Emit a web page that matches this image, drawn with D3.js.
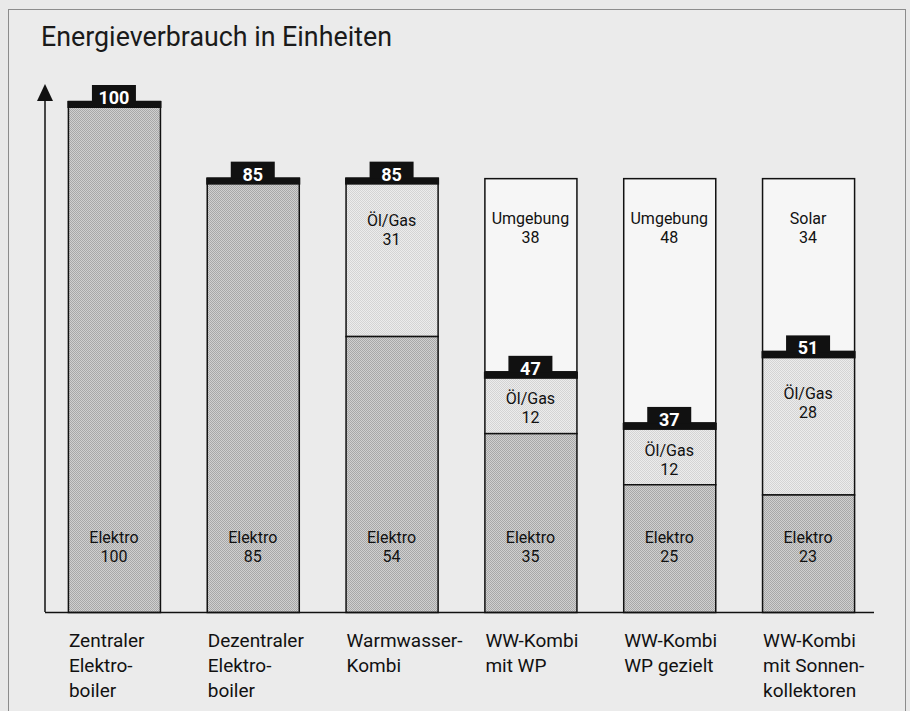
<!DOCTYPE html>
<html><head><meta charset="utf-8">
<script src="https://cdn.jsdelivr.net/npm/d3@7"></script>
<style>
html,body{margin:0;padding:0;background:#e9e9e9;}
svg{display:block;}
text{font-family:Roboto,"Open Sans",sans-serif;}
</style></head>
<body>
<svg id="chart" width="910" height="711"></svg>
<script>
const categories = [
  ["Zentraler","Elektro-","boiler"],
  ["Dezentraler","Elektro-","boiler"],
  ["Warmwasser-","Kombi"],
  ["WW-Kombi","mit WP"],
  ["WW-Kombi","WP gezielt"],
  ["WW-Kombi","mit Sonnen-","kollektoren"]
];
const elektro = [100, 85, 54, 35, 25, 23];
const oelGas  = [0, 0, 31, 12, 12, 28];
const umwelt  = [0, 0, 0, 38, 48, 34];
const umweltNames = ["", "", "", "Umgebung", "Umgebung", "Solar"];
const title = "Energieverbrauch in Einheiten";

const svg = d3.select("#chart");
const defs = svg.append("defs");
function checker(id, a, b){
  const p = defs.append("pattern").attr("id", id).attr("width", 2).attr("height", 2)
    .attr("patternUnits", "userSpaceOnUse");
  p.append("rect").attr("width", 2).attr("height", 2).attr("fill", b);
  p.append("rect").attr("width", 1).attr("height", 1).attr("fill", a);
  p.append("rect").attr("x", 1).attr("y", 1).attr("width", 1).attr("height", 1).attr("fill", a);
}
checker("pElektro", "#a8a8a8", "#d0d0d0");
checker("pOel", "#d4d4d4", "#ececec");

// frame
svg.append("rect").attr("x", 8.5).attr("y", 9.5).attr("width", 897).attr("height", 720)
  .attr("fill", "#ebebeb").attr("stroke", "#8c8c8c").attr("stroke-width", 1);

const tt = svg.append("text").attr("x", 41).attr("y", 46).attr("font-size", 24)
  .attr("fill", "#1a1a1a").text(title);
const tw = tt.node().getComputedTextLength();
tt.attr("font-size", 24 * 351 / tw);

const idx = categories.map((d, i) => i);
const x = d3.scaleBand().domain(idx).range([45, 877]).paddingInner(0.337).paddingOuter(0.165);
const y = d3.scaleLinear().domain([0, 100]).range([612, 101]);

const rows = idx.map(i => ({
  i, e: elektro[i], o: oelGas[i], u: umwelt[i], un: umweltNames[i],
  total: elektro[i] + oelGas[i]
}));

const g = svg.append("g");
const bw = x.bandwidth();

function twoLines(cx, yb, a, b){
  g.append("text").attr("x", cx).attr("y", yb).attr("text-anchor", "middle").attr("font-size", 16)
    .attr("fill", "#111").text(a);
  g.append("text").attr("x", cx).attr("y", yb + 19).attr("text-anchor", "middle").attr("font-size", 16)
    .attr("fill", "#111").text(b);
}

// Umgebung / Solar segments
rows.filter(d => d.u > 0).forEach(d => {
  const top = y(d.total + d.u), bot = y(d.total);
  g.append("rect").attr("x", x(d.i) + 0.5).attr("y", top + 1).attr("width", bw)
    .attr("height", bot - top - 1).attr("fill", "#f6f6f6").attr("stroke", "#111").attr("stroke-width", 1.5);
  twoLines(x(d.i) + bw / 2, top + 46, d.un, d.u);
});
// Öl/Gas segments
rows.filter(d => d.o > 0).forEach(d => {
  const top = y(d.total), bot = y(d.e);
  g.append("rect").attr("x", x(d.i) + 0.5).attr("y", top + 0.5).attr("width", bw)
    .attr("height", bot - top).attr("fill", "url(#pOel)").attr("stroke", "#111").attr("stroke-width", 1.5);
  const yb = top + Math.min((bot - top) / 2 + 2, 48);
  twoLines(x(d.i) + bw / 2, yb, "Öl/Gas", d.o);
});
// Elektro segments
rows.forEach(d => {
  const top = y(d.e), bot = y(0);
  g.append("rect").attr("x", x(d.i) + 0.5).attr("y", top + 0.5).attr("width", bw)
    .attr("height", bot - top).attr("fill", "url(#pElektro)").attr("stroke", "#111").attr("stroke-width", 1.5);
  twoLines(x(d.i) + bw / 2, y(0) - 69, "Elektro", d.e);
});
// caps
rows.forEach(d => {
  const yt = y(d.total);
  const cx = x(d.i) + bw / 2;
  g.append("rect").attr("x", x(d.i) - 0.5).attr("y", yt).attr("width", bw + 2).attr("height", 7).attr("fill", "#111");
  g.append("rect").attr("x", cx - 22).attr("y", yt - 16).attr("width", 44).attr("height", 17).attr("fill", "#111");
  g.append("text").attr("x", cx).attr("y", yt + 3).attr("text-anchor", "middle")
    .attr("font-size", 18).attr("font-weight", 700).attr("fill", "#fff").text(d.total);
});

// axes
const xAxis = d3.axisBottom(x).tickSize(0).tickFormat(() => "");
const xa = svg.append("g").attr("transform", `translate(0,${y(0) + 0.5})`).call(xAxis);
xa.select(".domain").attr("stroke", "#111").attr("stroke-width", 1.5).attr("d", "M45,0H874");
svg.append("line").attr("x1", 45).attr("x2", 45).attr("y1", y(0)).attr("y2", 98)
  .attr("stroke", "#111").attr("stroke-width", 1.5);
svg.append("path").attr("d", "M45,84L37,101L53,101Z").attr("fill", "#111");

// category labels
rows.forEach(d => {
  categories[d.i].forEach((line, k) => {
    svg.append("text").attr("font-size", 19).attr("fill", "#111")
      .attr("x", x(d.i) + 1).attr("y", 647 + k * 25).text(line);
  });
});
</script>
</body></html>
